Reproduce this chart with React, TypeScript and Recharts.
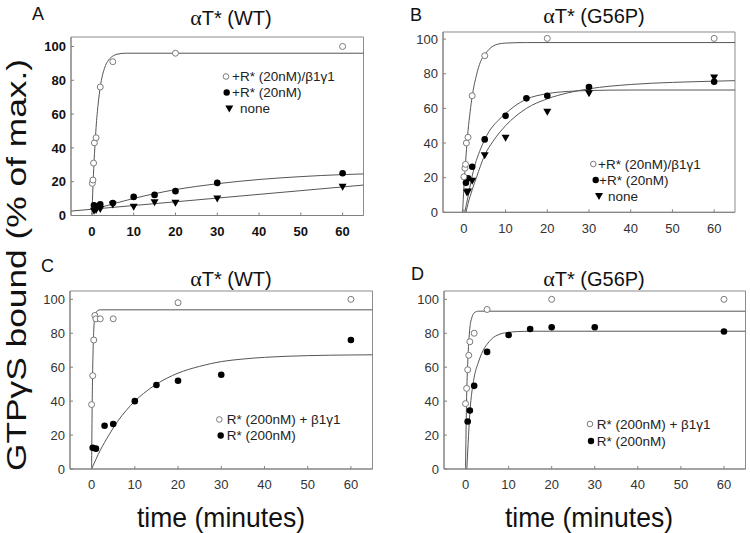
import React from 'react';
import { ComposedChart, Line, Scatter, XAxis, YAxis, ReferenceArea } from 'recharts';

type P = [number, number];

const xTicks = [0, 10, 20, 30, 40, 50, 60];
const yTicks = [0, 20, 40, 60, 80, 100];

// Panel A: alphaT* (WT), R* 20 nM
const aOpen: P[] = [[0.1, 19], [0.25, 21], [0.4, 31], [0.6, 43], [1, 46], [2, 76], [5, 91], [20, 96], [60, 100]];
const aFilled: P[] = [[0.5, 6], [1, 5.5], [2, 6.6], [5, 7.4], [10, 11], [15, 12.2], [20, 14.4], [30, 19.3], [60, 25]];
const aTri: P[] = [[0.5, 2.8], [1, 3.3], [2, 3.8], [5, 6.5], [10, 5.2], [15, 7.8], [20, 7.5], [30, 10], [60, 17]];
const aOpenFit: P[] = [[0, 0], [0.25, 17], [0.5, 31], [0.75, 42], [1, 52], [1.5, 66], [2, 76], [3, 87], [4, 92], [5, 94.3], [6, 95.4], [8, 96], [65, 96]];
const aFilledFit: P[] = [[0, 3.5], [5, 6.8], [10, 10.1], [15, 12.9], [20, 15.3], [25, 17.2], [30, 18.8], [40, 21.3], [50, 23], [60, 24.2], [65, 24.6]];
const aTriFit: P[] = [[-5, 2.6], [0, 3.7], [10, 5.9], [20, 8.1], [30, 10.3], [40, 12.5], [50, 14.7], [60, 16.9], [65, 18]];

// Panel B: alphaT* (G56P), R* 20 nM
const bOpen: P[] = [[0, 20.5], [0.25, 25.5], [0.4, 27.7], [0.6, 40], [1, 43.3], [2, 67.3], [5, 90.4], [20, 100.4], [60, 100.4]];
const bFilled: P[] = [[0.5, 17], [1, 19.6], [2, 26.3], [5, 42.1], [10, 55.7], [15, 65.8], [20, 67.3], [30, 72.3], [60, 75.4]];
const bTri: P[] = [[0.75, 11.5], [1, 12], [2, 18.2], [5, 32.9], [10, 43], [20, 58], [30, 68.7], [60, 77.9]];
const bOpenFit: P[] = [[-0.3, 0], [0, 14], [0.5, 32], [1, 47], [1.5, 58], [2, 67], [3, 79], [4, 87], [5, 91], [6, 94], [7, 96], [8, 97], [10, 97.7], [15, 98], [65, 98]];
const bFilledFit: P[] = [[0.2, 0], [1, 9], [2, 21], [3, 30], [4, 36.5], [5, 42], [6, 46.5], [8, 52.5], [10, 57], [12, 61], [15, 65.3], [20, 68.5], [25, 69.8], [30, 70.3], [40, 70.6], [65, 70.6]];
const bTriFit: P[] = [[0.5, 0], [1, 5], [2, 13], [3, 20], [5, 33], [7, 41], [10, 50], [15, 60], [20, 65.5], [25, 69], [30, 71.3], [40, 73.8], [50, 75], [60, 75.7], [65, 76]];

// Panel C: alphaT* (WT), R* 200 nM
const cOpen: P[] = [[0, 38], [0.25, 55], [0.5, 76], [0.75, 90.5], [1, 88.5], [2, 88.5], [5, 88.5], [20, 98], [60, 100]];
const cFilled: P[] = [[0.25, 12.5], [1, 12], [3, 25.5], [5, 26.5], [10, 40], [15, 49.5], [20, 52], [30, 55.5], [60, 76]];
const cOpenFit: P[] = [[0, 0], [0.1, 30], [0.2, 51], [0.3, 65], [0.4, 75], [0.5, 82], [0.75, 89.5], [1, 92], [1.5, 93.5], [2, 93.8], [65, 93.8]];
const cFilledFit: P[] = [[0, 0], [2, 11], [4, 20], [6, 28], [8, 34.5], [10, 40], [12, 44.5], [15, 50], [20, 56.5], [25, 60.5], [30, 63.3], [35, 64.8], [40, 65.8], [50, 66.8], [60, 67.2], [65, 67.3]];

// Panel D: alphaT* (G56P), R* 200 nM
const dOpen: P[] = [[0, 38.5], [0.25, 47.5], [0.5, 58.5], [0.75, 67], [1, 75], [2, 80], [5, 94], [20, 100], [60, 100]];
const dFilled: P[] = [[0.5, 28], [1, 34.5], [2, 49], [5, 69], [10, 79], [15, 82.5], [20, 83.5], [30, 83.5], [60, 81]];
const dOpenFit: P[] = [[0, 0], [0.25, 42], [0.5, 62], [0.75, 75], [1, 83], [1.5, 89.5], [2, 92], [3, 93], [65, 93]];
const dFilledFit: P[] = [[0.3, 0], [0.6, 15], [1, 33], [1.5, 46], [2, 54], [3, 63], [4, 69.5], [5, 73.5], [6, 76.5], [8, 79.5], [10, 80.5], [12, 81], [15, 81.2], [65, 81.2]];

const legendLow = ['+R* (20nM)/β1γ1', '+R* (20nM)', 'none'];
const legendHigh = ['R* (200nM) + β1γ1', 'R* (200nM)'];
const titleWT = 'T* (WT)';
const titleG56P = 'T* (G56P)';
const yLabel = 'GTPγS bound (% of max.)';
const xLabel = 'time (minutes)';

const FONT = '"Liberation Sans", Arial, Helvetica, sans-serif';
const toObj = (arr: P[]) => arr.map(([t, y]) => ({ t, y }));

type Kind = 'open' | 'filled' | 'tri';

const OpenCircle = (p: any) => <circle cx={p.cx} cy={p.cy} r={3} fill="#fff" stroke="#7a7a7a" strokeWidth={1} />;
const FilledCircle = (p: any) => <circle cx={p.cx} cy={p.cy} r={3.3} fill="#000" />;
const TriDown = (p: any) => (
  <path d={`M${p.cx - 4},${p.cy - 3} L${p.cx + 4},${p.cy - 3} L${p.cx},${p.cy + 4} Z`} fill="#000" />
);
const shapes: Record<Kind, any> = { open: OpenCircle, filled: FilledCircle, tri: TriDown };

type PanelProps = {
  px: number; py: number; pw: number; ph: number; ymax: number; bold?: boolean;
  points: { kind: Kind; data: P[] }[];
  fits: P[][];
};

const YW = 40, MT = 5, MR = 2, XH = 30;

const Panel = ({ px, py, pw, ph, ymax, bold, points, fits }: PanelProps) => {
  const W = pw + YW + MR;
  const H = ph + MT + XH;
  const tickStyle = { fontSize: 13, fontFamily: FONT, fill: bold ? '#111' : '#333', fontWeight: bold ? 700 : 400 };
  return (
    <div style={{ position: 'absolute', left: px - YW, top: py - MT, width: W, height: H }}>
      <ComposedChart width={W} height={H} margin={{ top: MT, right: MR, bottom: 0, left: 0 }}>
        <XAxis
          dataKey="t" type="number" domain={[-5, 65]} ticks={xTicks} allowDataOverflow
          height={XH} tick={tickStyle} tickSize={3} tickMargin={8}
          axisLine={{ stroke: '#808080' }} tickLine={{ stroke: '#808080', transform: 'translate(0,-3)' }}
        />
        <YAxis
          dataKey="y" type="number" domain={[0, ymax]} ticks={yTicks} allowDataOverflow
          width={YW} tick={tickStyle} tickSize={3} tickMargin={2}
          axisLine={{ stroke: '#808080' }} tickLine={{ stroke: '#808080', transform: 'translate(3,0)' }}
        />
        <ReferenceArea x1={-5} x2={65} y1={0} y2={ymax} fill="none" stroke="#8c8c8c" strokeWidth={1} />
        {fits.map((f, i) => (
          <Line key={'f' + i} data={toObj(f)} dataKey="y" type="monotone" dot={false} activeDot={false}
            stroke="#555" strokeWidth={1} isAnimationActive={false} />
        ))}
        {points.map((s, i) => (
          <Scatter key={'s' + i} data={toObj(s.data)} dataKey="y" shape={shapes[s.kind]} isAnimationActive={false} />
        ))}
      </ComposedChart>
    </div>
  );
};

const LegendMarker = ({ kind, x, y }: { kind: Kind; x: number; y: number }) => {
  if (kind === 'open') return <circle cx={x} cy={y} r={2.8} fill="#fff" stroke="#7a7a7a" strokeWidth={1} />;
  if (kind === 'filled') return <circle cx={x} cy={y} r={3.2} fill="#000" />;
  return <path d={`M${x - 4},${y - 3} L${x + 4},${y - 3} L${x},${y + 4} Z`} fill="#000" />;
};

const LegendBlock = ({ items }: { items: { kind: Kind; label: string; mx: number; tx: number; y: number }[] }) => (
  <g>
    {items.map((it, i) => (
      <g key={i}>
        <LegendMarker kind={it.kind} x={it.mx} y={it.y} />
        <text x={it.tx} y={it.y} dy="0.36em" fontSize={13.5} fontFamily={FONT} fill="#222">{it.label}</text>
      </g>
    ))}
  </g>
);

const Title = ({ x, y, text }: { x: number; y: number; text: string }) => (
  <text x={x} y={y} textAnchor="middle" fontSize={20} fontFamily={FONT} fill="#111">
    <tspan fontFamily='"Liberation Serif", "DejaVu Serif", serif' fontSize={22}>α</tspan>{text}
  </text>
);

const Letter = ({ x, y, text }: { x: number; y: number; text: string }) => (
  <text x={x} y={y} fontSize={18} fontFamily={FONT} fill="#111">{text}</text>
);

export default function App() {
  return (
    <div style={{ position: 'absolute', left: 0, top: 0, width: 750, height: 533, overflow: 'hidden', background: '#fff' }}>
      <Panel px={71} py={37} pw={292.5} ph={178.5} ymax={105.6} bold
        fits={[aOpenFit, aFilledFit, aTriFit]}
        points={[{ kind: 'tri', data: aTri }, { kind: 'filled', data: aFilled }, { kind: 'open', data: aOpen }]} />
      <Panel px={443} py={32} pw={292} ph={180.3} ymax={104.1}
        fits={[bOpenFit, bFilledFit, bTriFit]}
        points={[{ kind: 'tri', data: bTri }, { kind: 'filled', data: bFilled }, { kind: 'open', data: bOpen }]} />
      <Panel px={70} py={291} pw={302.5} ph={178} ymax={104.9}
        fits={[cOpenFit, cFilledFit]}
        points={[{ kind: 'filled', data: cFilled }, { kind: 'open', data: cOpen }]} />
      <Panel px={444} py={291} pw={301.5} ph={178} ymax={104.9}
        fits={[dOpenFit, dFilledFit]}
        points={[{ kind: 'filled', data: dFilled }, { kind: 'open', data: dOpen }]} />

      <svg width={750} height={533} style={{ position: 'absolute', left: 0, top: 0, pointerEvents: 'none' }}>
        <Letter x={32} y={20} text="A" />
        <Letter x={410} y={21} text="B" />
        <Letter x={41} y={272} text="C" />
        <Letter x={411} y={280} text="D" />
        <Title x={231} y={25} text={titleWT} />
        <Title x={594} y={23} text={titleG56P} />
        <Title x={231} y={286} text={titleWT} />
        <Title x={594} y={286} text={titleG56P} />
        <text transform="translate(26,265) rotate(-90)" textAnchor="middle" fontSize={28} fontFamily={FONT} fill="#111"
          textLength={412} lengthAdjust="spacingAndGlyphs">{yLabel}</text>
        <text x={221} y={527} textAnchor="middle" fontSize={28} fontFamily={FONT} fill="#111"
          textLength={168} lengthAdjust="spacingAndGlyphs">{xLabel}</text>
        <text x={589} y={527} textAnchor="middle" fontSize={28} fontFamily={FONT} fill="#111"
          textLength={168} lengthAdjust="spacingAndGlyphs">{xLabel}</text>
        <LegendBlock items={[
          { kind: 'open', label: legendLow[0], mx: 226, tx: 232, y: 76.5 },
          { kind: 'filled', label: legendLow[1], mx: 226.7, tx: 232, y: 92.5 },
          { kind: 'tri', label: legendLow[2], mx: 229.3, tx: 240, y: 108.5 },
        ]} />
        <LegendBlock items={[
          { kind: 'open', label: legendLow[0], mx: 593.3, tx: 598, y: 164 },
          { kind: 'filled', label: legendLow[1], mx: 595.7, tx: 599, y: 180 },
          { kind: 'tri', label: legendLow[2], mx: 599, tx: 608, y: 196 },
        ]} />
        <LegendBlock items={[
          { kind: 'open', label: legendHigh[0], mx: 219.3, tx: 226.7, y: 419.5 },
          { kind: 'filled', label: legendHigh[1], mx: 220.7, tx: 226.7, y: 435.5 },
        ]} />
        <LegendBlock items={[
          { kind: 'open', label: legendHigh[0], mx: 590, tx: 596.7, y: 424 },
          { kind: 'filled', label: legendHigh[1], mx: 591, tx: 596.7, y: 441 },
        ]} />
      </svg>
    </div>
  );
}
